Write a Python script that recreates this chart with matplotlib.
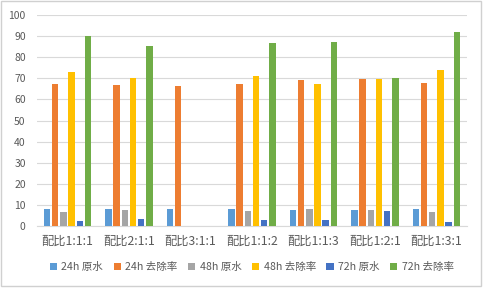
import numpy as np
import matplotlib
matplotlib.use("Agg")
import matplotlib.pyplot as plt
from matplotlib.patches import Rectangle

plt.rcParams['font.family'] = ['Noto Sans CJK SC', 'DejaVu Sans']

# data
groups = ['配比1:1:1', '配比2:1:1', '配比3:1:1', '配比1:1:2', '配比1:1:3', '配比1:2:1', '配比1:3:1']
series = ['24h 原水', '24h 去除率', '48h 原水', '48h 去除率', '72h 原水', '72h 去除率']
raw_24h = [8.1, 8.1, 8.1, 8.1, 7.7, 7.7, 8.1]
rate_24h = [67.3, 66.8, 66.3, 67.3, 69.2, 69.8, 67.9]
raw_48h = [6.8, 7.8, 0, 7.2, 8.1, 7.7, 6.8]
rate_48h = [73.1, 70.0, 0, 71.1, 67.3, 69.8, 74.0]
raw_72h = [2.5, 3.5, 0, 2.9, 2.9, 7.2, 2.0]
rate_72h = [90.0, 85.4, 0, 86.6, 87.3, 70.1, 92.0]
colors = ['#5B9BD5', '#ED7D31', '#A5A5A5', '#FFC000', '#4472C4', '#70AD47']

values = [raw_24h, rate_24h, raw_48h, rate_48h, raw_72h, rate_72h]

fig = plt.figure(figsize=(4.84, 2.89), dpi=100)
ax = fig.add_axes([0.076, 0.218, 0.889, 0.730])

x = np.arange(len(groups))
pitch = 0.133
width = 0.105
for i, (name, vals) in enumerate(zip(series, values)):
    ax.bar(x + (i - 2.5) * pitch, vals, width, color=colors[i], label=name, zorder=3)

ax.set_xlim(-0.5, len(groups) - 0.5)
ax.set_ylim(0, 100)
ax.set_yticks(range(0, 101, 10))
ax.set_xticks(x)
ax.set_xticklabels(groups, fontsize=8.8, color='#595959')
ax.tick_params(axis='y', labelsize=7.5, colors='#595959', length=0, pad=8)
ax.tick_params(axis='x', length=0, pad=6)
ax.grid(axis='y', color='#D9D9D9', linewidth=0.8, zorder=0)
for s in ['top', 'right', 'left']:
    ax.spines[s].set_visible(False)
ax.spines['bottom'].set_color('#D9D9D9')

leg = fig.legend(loc='center', bbox_to_anchor=(0.52, 0.075), ncol=6, frameon=False,
                 fontsize=7.6, handlelength=0.7, handleheight=0.7, handletextpad=0.4,
                 columnspacing=1.0, labelcolor='#595959')

# light frame around the chart
fig.patches.append(Rectangle((0.003, 0.01), 0.99, 0.985, transform=fig.transFigure,
                             fill=False, edgecolor='#D0D0D0', linewidth=1))

fig.savefig('out.png', dpi=100)
